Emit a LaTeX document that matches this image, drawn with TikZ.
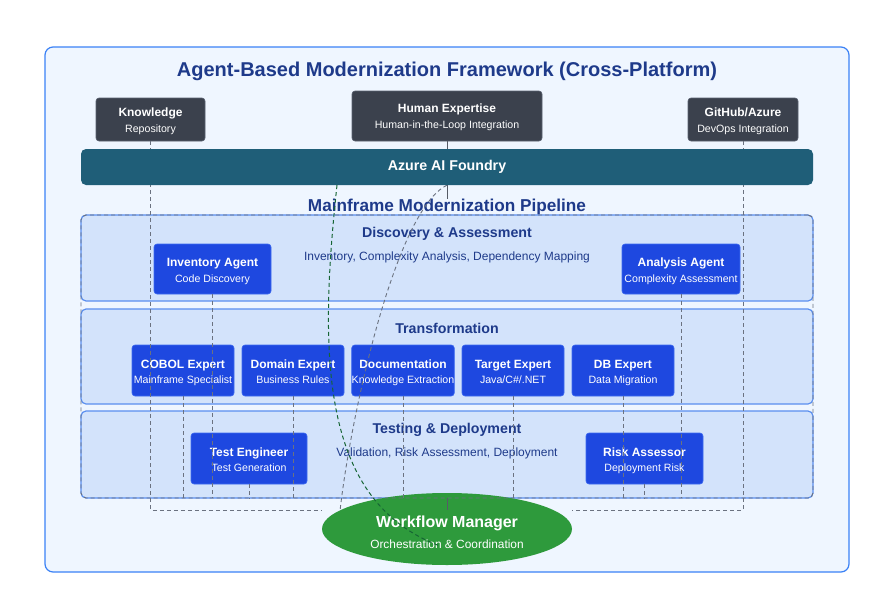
\documentclass[tikz,border=0pt]{standalone}
\usepackage{fontspec}
\setmainfont{Liberation Sans}
\usetikzlibrary{shapes.geometric}

\definecolor{navy}{HTML}{1E3A8A}
\definecolor{framefill}{HTML}{EFF6FF}
\definecolor{frameline}{HTML}{3B82F6}
\definecolor{panelfill}{HTML}{D3E3FB}
\definecolor{panelline}{HTML}{5B8FEF}
\definecolor{slate}{HTML}{3B414D}
\definecolor{slateedge}{HTML}{5A6170}
\definecolor{foundry}{HTML}{1F5E78}
\definecolor{agentblue}{HTML}{1E48E0}
\definecolor{agentedge}{HTML}{3D6AF0}
\definecolor{wmgreen}{HTML}{2E9A3C}
\definecolor{linkgray}{HTML}{6B7280}
\definecolor{linkgreen}{HTML}{166534}

\pgfdeclarelayer{front}
\pgfsetlayers{main,front}

\newcommand{\subline}[1]{{\mdseries\fontsize{10.6}{13}\selectfont #1}}

\begin{document}
\begin{tikzpicture}[x=1pt, y=-1pt,
  frame/.style={fill=framefill, draw=frameline, line width=1.2pt, rounded corners=8pt},
  darkbox/.style={fill=slate, draw=slateedge, line width=0.6pt, rounded corners=3pt, text=white, align=center, inner sep=0pt, minimum height=43pt, text height=25.5pt, text depth=0pt, font=\bfseries\fontsize{12}{15.5}\selectfont},
  panel/.style={fill=panelfill, draw=panelline, line width=1.2pt, rounded corners=5pt, minimum width=732pt},
  paneltitle/.style={text=navy, inner sep=0pt, font=\bfseries\fontsize{14.2}{17}\selectfont},
  panelsub/.style={text=navy, inner sep=0pt, font=\fontsize{12}{14}\selectfont},
  agent/.style={fill=agentblue, draw=agentedge, line width=0.6pt, rounded corners=3pt, text=white, align=center, inner sep=0pt, minimum height=50pt, text height=26pt, text depth=0pt, font=\bfseries\fontsize{12}{15.5}\selectfont},
  link/.style={draw=linkgray, line width=0.9pt, dash pattern=on 4pt off 3pt},
  tie/.style={draw=linkgray!80!black, line width=1pt}]

\fill[white] (0,0) rectangle (887,597);
\useasboundingbox (0,0) rectangle (887,597);

%%%%%%%%%%%%%%%%%%%%%%%%%%%%%%%%%%%%%%%%%%%%%%%%%%%%%%%%%%%%%%%%
% Frame and title
%%%%%%%%%%%%%%%%%%%%%%%%%%%%%%%%%%%%%%%%%%%%%%%%%%%%%%%%%%%%%%%%

\node[frame, minimum width=804pt, minimum height=525pt] (fw) at (447,309.5) {};
\node[text=navy, font=\bfseries\fontsize{20}{24}\selectfont] (title) at (447,71) {Agent-Based Modernization Framework (Cross-Platform)};

% Support components
\node[darkbox, minimum width=109pt] (kr) at (150.5,119.5) {Knowledge\\\subline{Repository}};
\node[darkbox, minimum width=190pt, minimum height=50pt, font=\bfseries\fontsize{12}{16.5}\selectfont] (he) at (447,116) {Human Expertise\\\subline{Human-in-the-Loop Integration}};
\node[darkbox, minimum width=110pt] (gh) at (743,119.5) {GitHub/Azure\\\subline{DevOps Integration}};

% Platform bar
\begin{pgfonlayer}{front}
\node[fill=foundry, rounded corners=5pt, minimum width=732pt, minimum height=36pt, text=white, font=\bfseries\fontsize{14.2}{17}\selectfont] (af) at (447,167) {Azure AI Foundry};
\end{pgfonlayer}

\node[text=navy, inner sep=0pt, font=\bfseries\fontsize{17.2}{20}\selectfont] (pt) at (447,207.5) {Mainframe Modernization Pipeline};

%%%%%%%%%%%%%%%%%%%%%%%%%%%%%%%%%%%%%%%%%%%%%%%%%%%%%%%%%%%%%%%%
% Discovery
%%%%%%%%%%%%%%%%%%%%%%%%%%%%%%%%%%%%%%%%%%%%%%%%%%%%%%%%%%%%%%%%

\node[panel, minimum height=86pt] (disc) at (447,258) {};
\node[paneltitle] (disc_t) at (447,234) {Discovery \& Assessment};
\node[panelsub] (disc_s) at (447,257) {Inventory, Complexity Analysis, Dependency Mapping};

\node[agent, minimum width=117pt] (ia) at (212.5,269) {Inventory Agent\\\subline{Code Discovery}};
\node[agent, minimum width=118pt] (aa) at (681,269) {Analysis Agent\\\subline{Complexity Assessment}};

%%%%%%%%%%%%%%%%%%%%%%%%%%%%%%%%%%%%%%%%%%%%%%%%%%%%%%%%%%%%%%%%
% Transformation
%%%%%%%%%%%%%%%%%%%%%%%%%%%%%%%%%%%%%%%%%%%%%%%%%%%%%%%%%%%%%%%%

\node[panel, minimum height=95pt] (trans) at (447,356.5) {};
\node[paneltitle] (trans_t) at (447,328) {Transformation};

\node[agent, minimum width=102pt, minimum height=51pt] (cx) at (183,370.5) {COBOL Expert\\\subline{Mainframe Specialist}};
\node[agent, minimum width=102pt, minimum height=51pt] (dx) at (293,370.5) {Domain Expert\\\subline{Business Rules}};
\node[agent, minimum width=102pt, minimum height=51pt] (doc) at (403,370.5) {Documentation\\\subline{Knowledge Extraction}};
\node[agent, minimum width=102pt, minimum height=51pt] (tx) at (513,370.5) {Target Expert\\\subline{Java/C\#/.NET}};
\node[agent, minimum width=102pt, minimum height=51pt] (dbx) at (623,370.5) {DB Expert\\\subline{Data Migration}};

%%%%%%%%%%%%%%%%%%%%%%%%%%%%%%%%%%%%%%%%%%%%%%%%%%%%%%%%%%%%%%%%
% Testing
%%%%%%%%%%%%%%%%%%%%%%%%%%%%%%%%%%%%%%%%%%%%%%%%%%%%%%%%%%%%%%%%

\node[panel, minimum height=87pt] (test) at (447,454.5) {};
\node[paneltitle] (test_t) at (447,430) {Testing \& Deployment};
\node[panelsub] (test_s) at (447,453) {Validation, Risk Assessment, Deployment};

\node[agent, minimum width=116pt, minimum height=51pt] (te) at (249,458.5) {Test Engineer\\\subline{Test Generation}};
\node[agent, minimum width=117pt, minimum height=51pt] (ra) at (644.5,458.5) {Risk Assessor\\\subline{Deployment Risk}};

% Orchestrator
\node[ellipse, fill=wmgreen, inner sep=0pt, minimum width=250pt, minimum height=72pt, text=white, align=center, text height=38.5pt, text depth=0pt, font=\bfseries\fontsize{16}{21}\selectfont] (wm) at (447,529) {Workflow Manager\\{\mdseries\fontsize{11.9}{14}\selectfont Orchestration \& Coordination}};

% Pipeline border
\begin{pgfonlayer}{front}
\node[draw=linkgray, line width=0.9pt, dash pattern=on 4pt off 3pt, rounded corners=5pt, minimum width=732pt, minimum height=283pt] (pipe) at (447,356.5) {};
\end{pgfonlayer}

%%%%%%%%%%%%%%%%%%%%%%%%%%%%%%%%%%%%%%%%%%%%%%%%%%%%%%%%%%%%%%%%
% Connections
%%%%%%%%%%%%%%%%%%%%%%%%%%%%%%%%%%%%%%%%%%%%%%%%%%%%%%%%%%%%%%%%

% Support --> orchestrator
\draw[link] (kr.south) |- ([yshift=19pt]wm.west);
\draw[link] (gh.south) |- ([yshift=19pt]wm.east);
\draw[tie] (he.south) -- (pt.north);
\draw[link] (af.south) .. controls (395,210) and (350,420) .. (wm.170);

% Agents --> pipeline
\draw[link] (ia.south) -- (ia.south |- pipe.south);
\draw[link] (aa.south) -- (aa.south |- pipe.south);
\draw[link] (cx.south) -- (cx.south |- pipe.south);
\draw[link] (dx.south) -- (dx.south |- pipe.south);
\draw[link] (doc.south) -- (doc.south |- pipe.south);
\draw[link] (tx.south) -- (tx.south |- pipe.south);
\draw[link] (dbx.south) -- (dbx.south |- pipe.south);
\draw[link] (te.south) -- (te.south |- pipe.south);
\draw[link] (ra.south) -- (ra.south |- pipe.south);

% Foundry --> orchestrator
\begin{pgfonlayer}{front}
\draw[tie] (pipe.south) -- ([yshift=19pt]wm.center);
\draw[draw=linkgreen, line width=1pt, dash pattern=on 4pt off 3pt] ([xshift=-110pt]af.south) .. controls (318,360) and (322,502) .. ([xshift=-7pt,yshift=-17pt]wm.center);
\end{pgfonlayer}

\end{tikzpicture}
\end{document}
